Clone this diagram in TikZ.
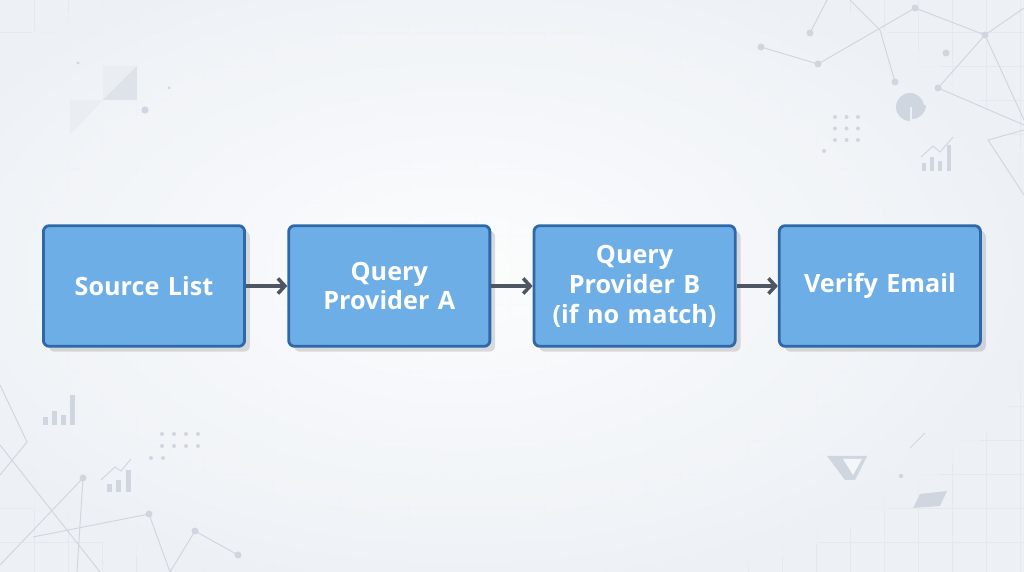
\documentclass[tikz,border=0pt]{standalone}
\usepackage{fontspec}
\setmainfont{Open Sans}
\usetikzlibrary{arrows.meta, positioning, shadows}
\definecolor{boxfill}{RGB}{110,174,230}
\definecolor{boxline}{RGB}{46,104,168}
\definecolor{arrowgray}{RGB}{78,86,98}
\definecolor{bgcol}{RGB}{237,241,246}
\definecolor{gridcol}{RGB}{228,232,239}
\definecolor{decor}{RGB}{208,214,224}
\tikzset{
  stepbox/.style = {
    rectangle, rounded corners=5pt, draw=boxline, line width=2.4pt,
    fill=boxfill, minimum width=5.98cm, minimum height=3.62cm,
    text width=5.8cm, align=center, text=white,
    font=\bfseries\fontsize{21.5}{25.5}\selectfont,
    drop shadow={shadow xshift=0.16cm, shadow yshift=-0.16cm, fill=black, opacity=0.13}
  },
  myarrow/.style = {-{Straight Barb[length=6pt, width=13pt]}, line width=3pt, draw=arrowgray},
  netline/.style = {draw=decor, line width=0.8pt},
  netdot/.style = {fill=decor}
}

\begin{document}
\begin{tikzpicture}[x=0.03cm, y=-0.03cm, node distance=1.24cm]
  % Background
  \useasboundingbox (0,0) rectangle (1024,572);
  \clip (0,0) rectangle (1024,572);
  \fill[bgcol] (0,0) rectangle (1024,572);
  \foreach \gx in {34,68,...,1020} \draw[gridcol, line width=0.4pt] (\gx,0) -- (\gx,572);
  \foreach \gy in {32,66,...,570} \draw[gridcol, line width=0.4pt] (0,\gy) -- (1024,\gy);
  \shade[inner color=white, outer color=bgcol, opacity=0.85] (460,270) ellipse (600 and 340);

  % Decorations, top left
  \fill[decor!45] (70,135) -- (103,100) -- (137,66) -- (137,100) -- (103,100) -- (70,100) -- cycle;
  \fill[decor!70] (103,66) rectangle (137,100);
  \fill[decor!45] (103,100) -- (137,66) -- (103,66) -- cycle;
  \fill[decor] (78,63) circle (1.6) (145,110) circle (3.6) (169,88) circle (1.5);

  % Decorations, top right
  \draw[netline] (761,47) -- (818,64) -- (915,8) -- (985,35) -- (1024,8);
  \draw[netline] (810,33) -- (827,0);
  \draw[netline] (850,0) -- (880,30) -- (895,82);
  \draw[netline] (1024,120) -- (985,35) -- (938,88) -- (1024,125);
  \draw[netline] (1024,130) -- (988,140) -- (1024,195);
  \foreach \p in {(761,47),(818,64),(810,33),(915,8),(985,35),(895,82),(938,88),(946,53)}
    \fill[netdot] \p circle (3.5);
  \fill[decor] (910,107) -- ++(90:14) arc (90:360:14) -- cycle;
  \fill[decor] (912,105) -- ++(90:14) arc (90:0:14) -- cycle;
  \foreach \dx in {0,1,2} \foreach \dy in {0,1,2}
    \fill[decor] (835+11.5*\dx,117+11.5*\dy) circle (2);
  \fill[decor] (824,151) circle (2);
  \foreach \bx/\bh in {922/8,930/14,938/10,947/26}
    \fill[decor] (\bx,171) rectangle (\bx+4,171-\bh);
  \draw[decor, line width=0.8pt] (921,157) -- (933,146) -- (940,152) -- (953,137);

  % Decorations, bottom left
  \draw[netline] (0,385) -- (27,442) -- (0,475);
  \draw[netline] (0,445) -- (100,572);
  \draw[netline] (0,565) -- (83,478) -- (77,572);
  \draw[netline] (33,537) -- (149,514) -- (170,572);
  \draw[netline] (170,572) -- (195,531) -- (238,555);
  \foreach \p in {(83,478),(149,514),(195,531),(238,555)}
    \fill[netdot] \p circle (3.5);
  \foreach \bx/\bh in {43/8,52/14,61/10,70/30}
    \fill[decor] (\bx,425) rectangle (\bx+5,425-\bh);
  \foreach \bx/\bh in {107/8,116/12,126/22}
    \fill[decor] (\bx,492) rectangle (\bx+5,492-\bh);
  \draw[decor, line width=0.8pt] (101,480) -- (115,467) -- (121,471) -- (131,459);
  \foreach \dx in {0,1,2,3} \foreach \dy in {0,1}
    \fill[decor] (162+12*\dx,434+12*\dy) circle (2);
  \fill[decor] (151,458) circle (2) (163,458) circle (2);

  % Decorations, bottom right
  \fill[decor] (827,456) -- (867,456) -- (855,480) -- (845,480) -- cycle;
  \fill[bgcol!60!white] (843,459) -- (862,459) -- (853,475) -- cycle;
  \fill[decor] (913,508) -- (920,494) -- (947,491) -- (940,506) -- cycle;
  \fill[decor] (901,476) circle (2.2);
  \draw[decor, line width=0.8pt] (910,448) -- (925,433);

  % Nodes
  \node[stepbox] (src) at (144,286) {Source List};
  \node[stepbox, right=of src] (provA) {Query\\Provider A};
  \node[stepbox, right=of provA] (provB) {Query\\Provider B\\(if no match)};
  \node[stepbox, right=of provB] (verify) {Verify Email};

  % Connections
  \draw[myarrow] (src) -- (provA);
  \draw[myarrow] (provA) -- (provB);
  \draw[myarrow] (provB) -- (verify);
\end{tikzpicture}
\end{document}
